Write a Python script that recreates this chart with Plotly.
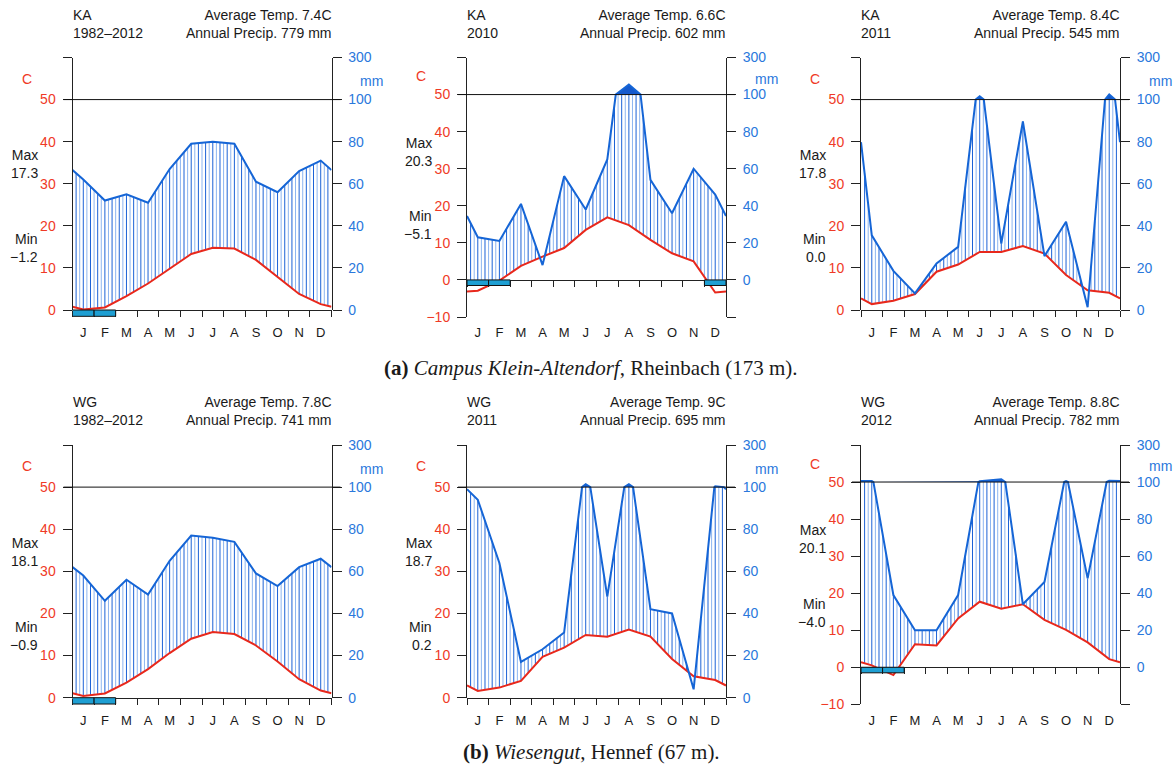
import numpy as np
import plotly.graph_objects as go

MONTHS = ["J", "F", "M", "A", "M", "J", "J", "A", "S", "O", "N", "D"]

# Monthly mean temperature (°C)
temp_ka_1982_2012 = [0.1, 0.6, 3.3, 6.3, 9.9, 13.3, 14.8, 14.6, 11.9, 7.9, 3.8, 1.4]
temp_ka_2010 = [-2.9, -0.2, 3.8, 6.3, 8.6, 13.5, 16.9, 14.8, 10.8, 7.2, 5.0, -3.4]
temp_ka_2011 = [1.4, 2.2, 3.8, 9.1, 10.8, 13.8, 13.8, 15.2, 13.4, 8.3, 4.7, 4.1]
temp_wg_1982_2012 = [0.4, 1.0, 3.6, 6.8, 10.6, 14.0, 15.6, 15.1, 12.4, 8.6, 4.4, 1.7]
temp_wg_2011 = [1.6, 2.4, 4.0, 9.7, 11.9, 14.9, 14.5, 16.2, 14.5, 9.2, 5.1, 4.2]
temp_wg_2012 = [0.5, -2.1, 6.2, 5.9, 13.2, 17.7, 15.8, 17.0, 12.8, 10.1, 6.7, 2.2]

# Monthly precipitation (mm)
prec_ka_1982_2012 = [62, 52, 55, 51, 67, 79, 80, 79, 61, 56, 66, 71]
prec_ka_2010 = [23, 21, 41, 8, 56, 38, 65, 154, 54, 36, 60, 46]
prec_ka_2011 = [35.5, 18.6, 7.9, 22.1, 30.0, 116, 31.6, 89.6, 25.6, 41.9, 1.3, 124]
prec_wg_1982_2012 = [58, 46, 56, 49, 65, 77, 76, 74, 59, 53, 62, 66]
prec_wg_2011 = [94, 64, 17, 23, 31, 114, 48, 114, 42, 40, 4, 104]
prec_wg_2012 = [105, 39, 20, 20, 39, 104, 115, 34, 46, 105, 48, 107]

TEMPS = [temp_ka_1982_2012, temp_ka_2010, temp_ka_2011,
         temp_wg_1982_2012, temp_wg_2011, temp_wg_2012]
PRECS = [prec_ka_1982_2012, prec_ka_2010, prec_ka_2011,
         prec_wg_1982_2012, prec_wg_2011, prec_wg_2012]

STATION = ["KA", "KA", "KA", "WG", "WG", "WG"]
PERIOD = ["1982–2012", "2010", "2011", "1982–2012", "2011", "2012"]
AVG_TEMP = ["7.4", "6.6", "8.4", "7.8", "9", "8.8"]
ANNUAL_PREC = ["779", "602", "545", "741", "695", "782"]
MAX_TEMP = ["17.3", "20.3", "17.8", "18.1", "18.7", "20.1"]
MIN_TEMP = ["−1.2", "−5.1", "0.0", "−0.9", "0.2", "−4.0"]
FROST_MONTHS = [[0, 1], [0, 1, 11], [], [0, 1], [], [0, 1]]
TEMP_FLOOR = [0, -10, 0, 0, 0, -10]

CAPTIONS = [
    "<b>(a)</b> <i>Campus Klein-Altendorf</i>, Rheinbach (173 m).",
    "<b>(b)</b> <i>Wiesengut</i>, Hennef (67 m).",
]

# ---- styling / geometry -------------------------------------------------
W, H = 1173, 769
COL_X = [(72.5, 331.5), (467.0, 726.0), (861.0, 1120.0)]
ROW_TOP = [57.5, 445.0]
PLOT_BOTTOM = [310.0, 317.0, 310.0, 697.7, 697.7, 704.3]
LABEL_ROW = [333.0, 721.0]
CAPTION_Y = [368.0, 752.0]
CAPTION_X = 591.0

TOP = 60          # top of the temperature scale
SPLIT_MM = 100    # precipitation scale changes above this
FROST_DEPTH = 1.5
HATCH_STEP = 1 / 6

RED = "#e8281c"
RED_TXT = "#ef3a26"
BLUE = "#1565d6"
BLUE_TXT = "#2a78dc"
HATCH_DARK = "#1c62d6"
HATCH_LIGHT = "#8db5f0"
WET_FILL = "#1559cc"
FROST_FILL = "#1e9fd3"
INK = "#1a1a1a"
AXC = "#222222"
FONT = "Liberation Sans, Arial, sans-serif"
SERIF = "Liberation Serif, Times New Roman, serif"

XM = np.concatenate([[0.0], np.arange(12) + 0.5, [12.0]])


def px_x(v):
    return v / W


def px_y(v):
    return 1 - v / H


def closed(values):
    v = np.asarray(values, float)
    edge = (v[0] + v[-1]) / 2
    return np.concatenate([[edge], v, [edge]])


def prec_to_axis(p):
    p = np.asarray(p, float)
    return np.where(p <= SPLIT_MM, p / 2, 50 + (p - SPLIT_MM) / 20)


def axis_to_mm(v):
    return 2 * v if v <= 50 else SPLIT_MM + (v - 50) * 20


def refine(x, p):
    """Insert the points where the curve crosses the scale break."""
    xs, ps = [x[0]], [p[0]]
    for k in range(1, len(x)):
        p0, p1 = p[k - 1], p[k]
        if (p0 - SPLIT_MM) * (p1 - SPLIT_MM) < 0:
            f = (SPLIT_MM - p0) / (p1 - p0)
            xs.append(x[k - 1] + f * (x[k] - x[k - 1]))
            ps.append(float(SPLIT_MM))
        xs.append(x[k])
        ps.append(p[k])
    return np.array(xs), np.array(ps)


def name(kind, n):
    return kind if n == 1 else f"{kind}{n}"


def lkey(kind, n):
    return f"{kind}axis" if n == 1 else f"{kind}axis{n}"


fig = go.Figure()
layout = {}
shapes = []
annotations = []

for i in range(6):
    row, col = divmod(i, 3)
    nx, ny, nr, nl = i + 1, i + 1, i + 7, i + 7
    xa, ya, yr, xl = name("x", nx), name("y", ny), name("y", nr), name("x", nl)
    floor = TEMP_FLOOR[i]

    xd = [px_x(COL_X[col][0]), px_x(COL_X[col][1])]
    yd = [px_y(PLOT_BOTTOM[i]), px_y(ROW_TOP[row])]
    zero_paper = yd[0] + (0 - floor) / (TOP - floor) * (yd[1] - yd[0])
    xlen_px = COL_X[col][1] - COL_X[col][0]

    t = closed(TEMPS[i])
    p = closed(PRECS[i])
    xr, pr = refine(XM, p)
    pf = prec_to_axis(pr)

    # hatching of the humid period
    hx = np.arange(1, 72) * HATCH_STEP
    t_at = np.interp(hx, XM, t)
    p_at = np.interp(hx, xr, pf)
    lo = np.maximum(t_at, 0)
    hi = np.minimum(p_at, 50)
    for parity, colr in ((0, HATCH_DARK), (1, HATCH_LIGHT)):
        hxs, hys = [], []
        for k in range(len(hx)):
            if k % 2 == parity and hi[k] > lo[k]:
                hxs += [hx[k], hx[k], None]
                hys += [lo[k], hi[k], None]
        fig.add_trace(go.Scatter(x=hxs, y=hys, mode="lines", xaxis=xa, yaxis=ya,
                                 line=dict(color=colr, width=1),
                                 hoverinfo="skip", showlegend=False))

    # solid area above 100 mm
    if np.any(pf > 50):
        top = np.maximum(pf, 50)
        fig.add_trace(go.Scatter(
            x=list(xr) + list(xr[::-1]), y=list(top) + [50] * len(xr),
            mode="lines", fill="toself", fillcolor=WET_FILL,
            line=dict(width=0, color=WET_FILL), xaxis=xa, yaxis=ya,
            hoverinfo="skip", showlegend=False))

    # temperature and precipitation curves
    fig.add_trace(go.Scatter(x=XM, y=t, mode="lines", xaxis=xa, yaxis=ya,
                             line=dict(color=RED, width=2), cliponaxis=False,
                             showlegend=False, name="Temp."))
    fig.add_trace(go.Scatter(x=xr, y=pf, mode="lines", xaxis=xa, yaxis=ya,
                             line=dict(color=BLUE, width=2), cliponaxis=False,
                             showlegend=False, name="Precip."))

    # empty traces to activate the secondary axes
    fig.add_trace(go.Scatter(x=[None], y=[None], xaxis=xa, yaxis=yr,
                             showlegend=False, hoverinfo="skip"))
    fig.add_trace(go.Scatter(x=[None], y=[None], xaxis=xl, yaxis=ya,
                             showlegend=False, hoverinfo="skip"))

    ticks = list(range(floor, TOP + 1, 10))
    left_txt = ["" if v == TOP else (f"−{abs(v)}" if v < 0 else str(v)) for v in ticks]
    right_txt = ["" if v < 0 else str(int(axis_to_mm(v))) for v in ticks]

    layout[lkey("x", nx)] = dict(
        domain=xd, range=[0, 12], anchor="free", position=zero_paper,
        automargin=False,
        showline=True, linecolor=AXC, linewidth=1, showgrid=False, zeroline=False,
        tickmode="array", tickvals=list(range(13)), ticks="outside", ticklen=6,
        tickcolor=AXC, tickwidth=1, showticklabels=False, fixedrange=True)
    layout[lkey("x", nl)] = dict(
        overlaying=xa, range=[0, 12], anchor="free", automargin=False,
        position=px_y(LABEL_ROW[row] - 10), side="bottom",
        showline=False, showgrid=False, zeroline=False, ticks="",
        tickmode="array", tickvals=list(np.arange(12) + 0.5), ticktext=MONTHS,
        tickfont=dict(family=FONT, size=13, color=INK), fixedrange=True)
    layout[lkey("y", ny)] = dict(
        domain=yd, range=[floor, TOP], anchor=xa, automargin=False,
        showline=True, linecolor=AXC, linewidth=1, showgrid=False, zeroline=False,
        tickmode="array", tickvals=ticks, ticktext=left_txt, ticks="outside",
        ticklen=9, tickcolor=AXC, tickwidth=1, ticklabelstandoff=4,
        tickfont=dict(family=FONT, size=14, color=RED_TXT), fixedrange=True)
    layout[lkey("y", nr)] = dict(
        overlaying=ya, side="right", range=[floor, TOP], anchor=xa, automargin=False,
        showline=True, linecolor=AXC, linewidth=1, showgrid=False, zeroline=False,
        tickmode="array", tickvals=ticks, ticktext=right_txt, ticks="outside",
        ticklen=9, tickcolor=AXC, tickwidth=1, ticklabelstandoff=4,
        tickfont=dict(family=FONT, size=14, color=BLUE_TXT), fixedrange=True)

    # 100 mm reference line
    ext = 9 / xlen_px
    shapes.append(dict(type="line", xref=f"{xa} domain", yref=ya,
                       x0=-ext, x1=1 + ext, y0=50, y1=50,
                       line=dict(color="#111111", width=1)))

    # frost boxes below the zero line
    d0 = (0 - floor) / (TOP - floor)
    dh = FROST_DEPTH / (TOP - floor)
    for m in FROST_MONTHS[i]:
        shapes.append(dict(type="rect", xref=xa, yref=f"{ya} domain",
                           x0=m, x1=m + 1, y0=d0 - dh, y1=d0, layer="above",
                           fillcolor=FROST_FILL, line=dict(color="#111111", width=1)))

    # header texts
    annotations.append(dict(text=f"{STATION[i]}<br>{PERIOD[i]}", xref=xa, yref=ya,
                            x=0, y=TOP, xanchor="left", yanchor="bottom",
                            xshift=-2, yshift=15,
                            align="left", showarrow=False,
                            font=dict(family=FONT, size=14, color=INK)))
    annotations.append(dict(text=f"Average Temp. {AVG_TEMP[i]}C<br>Annual Precip. {ANNUAL_PREC[i]} mm",
                            xref=xa, yref=ya, x=12, y=TOP, xanchor="right",
                            yanchor="bottom", xshift=2, yshift=15, align="right",
                            showarrow=False,
                            font=dict(family=FONT, size=14, color=INK)))
    annotations.append(dict(text="C", xref=xa, yref=ya, x=0, y=55, xshift=-46,
                            xanchor="center", yanchor="middle", showarrow=False,
                            font=dict(family=FONT, size=14, color=RED_TXT)))
    annotations.append(dict(text="mm", xref=xa, yref=ya, x=12, y=54.3, xshift=40,
                            xanchor="center", yanchor="middle", showarrow=False,
                            font=dict(family=FONT, size=14, color=BLUE_TXT)))
    annotations.append(dict(text=f"Max<br>{MAX_TEMP[i]}", xref=xa, yref=ya, x=0, y=34.6,
                            xshift=-33, xanchor="right", yanchor="middle", align="right",
                            showarrow=False, font=dict(family=FONT, size=14, color=INK)))
    annotations.append(dict(text=f"Min<br>{MIN_TEMP[i]}", xref=xa, yref=ya, x=0, y=14.7,
                            xshift=-33, xanchor="right", yanchor="middle", align="right",
                            showarrow=False, font=dict(family=FONT, size=14, color=INK)))

for r in range(2):
    annotations.append(dict(text=CAPTIONS[r], xref="paper", yref="paper",
                            x=px_x(CAPTION_X), y=px_y(CAPTION_Y[r]),
                            xanchor="center", yanchor="middle", showarrow=False,
                            font=dict(family=SERIF, size=21, color=INK)))

fig.update_layout(
    width=W, height=H, margin=dict(l=0, r=0, t=0, b=0, autoexpand=False),
    paper_bgcolor="white", plot_bgcolor="rgba(0,0,0,0)",
    showlegend=False, shapes=shapes, annotations=annotations,
    font=dict(family=FONT, size=14, color=INK),
    **layout,
)

fig.write_html("out.html")
